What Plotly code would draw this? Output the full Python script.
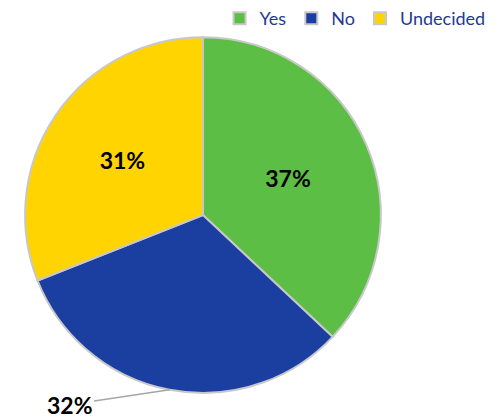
import math
import plotly.graph_objects as go

labels = ["Yes", "No", "Undecided"]
values = [37, 32, 31]
colors = ["#5DBE45", "#1B3FA0", "#FFD400"]

FONT = "Lato, Open Sans, sans-serif"

# pie geometry (paper domain)
dom_x = [0.050, 0.765]
dom_y = [0.060, 0.911]
W, H = 498, 418

fig = go.Figure(go.Pie(
    labels=labels,
    values=values,
    sort=False,
    direction="clockwise",
    rotation=0,
    marker=dict(colors=colors, line=dict(color="#C8C8C8", width=2)),
    texttemplate=["<b>%{percent:.0%}</b>", "", "<b>%{percent:.0%}</b>"],
    textposition="inside",
    insidetextorientation="horizontal",
    textfont=dict(family=FONT, size=23, color="black"),
    domain=dict(x=dom_x, y=dom_y),
    hoverinfo="label+percent",
))

# outside label for "No" slice with a leader line, located from the data
total = sum(values)
start = values[0] / total * 360
mid = start + values[1] / total * 360 / 2
cx = (dom_x[0] + dom_x[1]) / 2
cy = (dom_y[0] + dom_y[1]) / 2
r_px = min((dom_x[1] - dom_x[0]) * W, (dom_y[1] - dom_y[0]) * H) / 2
ex = cx + r_px * math.sin(math.radians(mid)) / W
ey = cy + r_px * math.cos(math.radians(mid)) / H

fig.add_annotation(
    x=ex, y=ey, xref="paper", yref="paper",
    text="<b>%d%%</b>" % round(values[1] / total * 100),
    showarrow=True, arrowhead=0, arrowwidth=1.5, arrowcolor="#A6A6A6",
    ax=-100, ay=15, standoff=0,
    font=dict(family=FONT, size=23, color="black"),
)

fig.update_layout(
    width=W, height=H,
    margin=dict(l=0, r=0, t=0, b=0),
    paper_bgcolor="white",
    plot_bgcolor="white",
    showlegend=True,
    legend=dict(
        orientation="h",
        x=0.985, xanchor="right",
        y=1.0, yanchor="top",
        font=dict(family=FONT, size=18, color="#1F3A93"),
        traceorder="normal",
    ),
)

fig.write_html("out.html")
